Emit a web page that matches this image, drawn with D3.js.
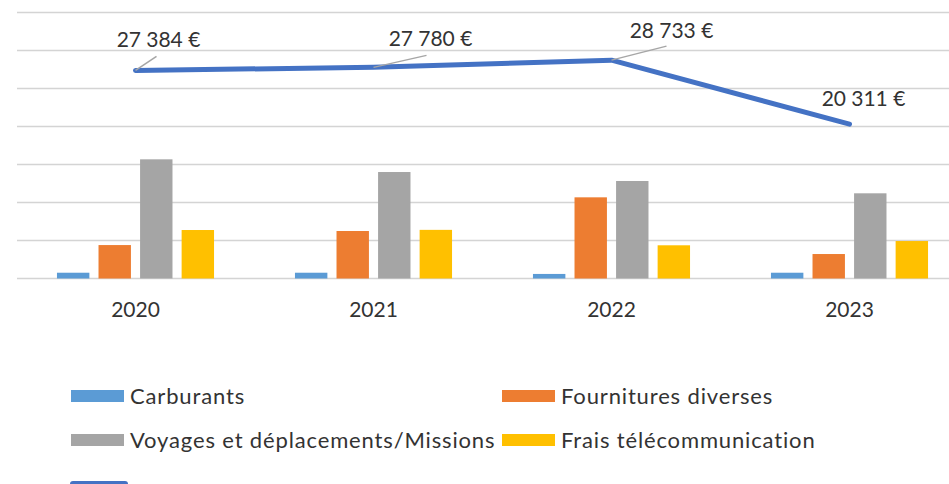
<!DOCTYPE html>
<html>
<head>
<meta charset="utf-8">
<script src="https://cdn.jsdelivr.net/npm/d3@7"></script>
<style>
  html, body { margin: 0; padding: 0; background: #fff; }
  svg { display: block; font-family: Lato, 'Open Sans', sans-serif; }
</style>
</head>
<body>
<div class="chart"></div>
<script>
const years = ['2020', '2021', '2022', '2023']
const seriesNames = ['Carburants', 'Fournitures diverses', 'Voyages et déplacements/Missions', 'Frais télécommunication']
const carburants = [760, 760, 600, 760]
const fournitures = [4400, 6250, 10680, 3220]
const voyages = [15680, 14010, 12830, 11210]
const frais = [6380, 6400, 4370, 4930]
const totals = [27384, 27780, 28733, 20311]
const yTicks = [0, 5000, 10000, 15000, 20000, 25000, 30000, 35000]

const colors = ['#5b9bd5', '#ed7d31', '#a5a5a5', '#ffc000']
const lineColor = '#4472c4'
const textColor = '#333333'

// label offsets from each total point, and leader line start (null = no leader)
const labelOffsets = [[23, -32], [57, -30], [60, -31], [14, -27]]
const leaderOffsets = [[21, -14], [53, -12], [55, -14], null]

let w = 949,
    h = 484

const svg = d3.select('.chart')
              .append('svg')
              .attr('width', w)
              .attr('height', h)

const x0 = d3.scaleBand()
             .domain(years)
             .range([16.5, 968.5])
             .paddingInner(0.34)
             .paddingOuter(0.17)

const x1 = d3.scaleBand()
             .domain(d3.range(4))
             .range([0, x0.bandwidth()])
             .paddingInner(0.22)

const y = d3.scaleLinear()
            .domain([0, 35000])
            .range([278.5, 12.5])

// gridlines
svg.append('g')
   .selectAll('line')
   .data(yTicks)
   .enter()
   .append('line')
   .attr('x1', 17)
   .attr('x2', w)
   .attr('y1', d => y(d))
   .attr('y2', d => y(d))
   .attr('stroke', '#d4d4d4')
   .attr('stroke-width', 1.6)

// bars
const allSeries = [carburants, fournitures, voyages, frais]
const groups = svg.append('g')
                  .selectAll('g')
                  .data(years)
                  .enter()
                  .append('g')
                  .attr('transform', d => `translate(${x0(d)},0)`)

groups.selectAll('rect')
      .data((d, i) => allSeries.map((s, k) => ({ k: k, v: s[i] })))
      .enter()
      .append('rect')
      .attr('x', d => x1(d.k))
      .attr('width', x1.bandwidth())
      .attr('y', d => y(d.v))
      .attr('height', d => y(0) - y(d.v))
      .attr('fill', d => colors[d.k])

// x axis labels
const xAxis = d3.axisBottom(x0).tickSize(0).tickPadding(0)
const gx = svg.append('g')
              .attr('transform', `translate(0,${y(0)})`)
              .call(xAxis)
gx.select('.domain').remove()
gx.selectAll('text')
  .attr('dy', '1.15em')
  .attr('y', 14)
  .attr('font-size', 21)
  .attr('font-family', 'Lato, sans-serif')
  .attr('fill', textColor)

// total line
const cx = d => x0(d) + x0.bandwidth() / 2
const line = d3.line()
               .x((d, i) => cx(years[i]))
               .y(d => y(d))

svg.append('path')
   .datum(totals)
   .attr('d', line)
   .attr('fill', 'none')
   .attr('stroke', lineColor)
   .attr('stroke-width', 5)
   .attr('stroke-linecap', 'round')
   .attr('stroke-linejoin', 'round')

// leader lines
svg.append('g')
   .selectAll('line')
   .data(totals.map((v, i) => ({ v, i })).filter(d => leaderOffsets[d.i]))
   .enter()
   .append('line')
   .attr('x1', d => cx(years[d.i]) + leaderOffsets[d.i][0])
   .attr('y1', d => y(d.v) + leaderOffsets[d.i][1])
   .attr('x2', d => cx(years[d.i]))
   .attr('y2', d => y(d.v))
   .attr('stroke', '#a6a6a6')
   .attr('stroke-width', 1.5)

// data labels
const fmt = v => d3.format(',')(v).replace(/,/g, '\u202f') + ' €'
svg.append('g')
   .selectAll('text')
   .data(totals)
   .enter()
   .append('text')
   .attr('x', (d, i) => cx(years[i]) + labelOffsets[i][0])
   .attr('y', (d, i) => y(d) + labelOffsets[i][1])
   .attr('text-anchor', 'middle')
   .attr('dominant-baseline', 'central')
   .attr('font-size', 21)
   .attr('fill', textColor)
   .text(fmt)

// legend
const legendPos = [[71, 396], [502, 396], [71, 440], [502, 440]]
const legend = svg.append('g').attr('id', 'legend')
const items = legend.selectAll('g')
                    .data(seriesNames)
                    .enter()
                    .append('g')
                    .attr('transform', (d, i) => `translate(${legendPos[i][0]},${legendPos[i][1]})`)
items.append('rect')
     .attr('x', 0)
     .attr('y', -6)
     .attr('width', 53)
     .attr('height', 12)
     .attr('fill', (d, i) => colors[i])
items.append('text')
     .attr('x', 59)
     .attr('y', -1)
     .attr('dominant-baseline', 'central')
     .attr('font-size', 22)
     .attr('letter-spacing', 0.85)
     .attr('fill', textColor)
     .text(d => d)

// line series swatch (cut off at bottom)
legend.append('rect')
      .attr('x', 70)
      .attr('y', 481)
      .attr('width', 58)
      .attr('height', 10)
      .attr('rx', 3)
      .attr('fill', lineColor)
</script>
</body>
</html>
